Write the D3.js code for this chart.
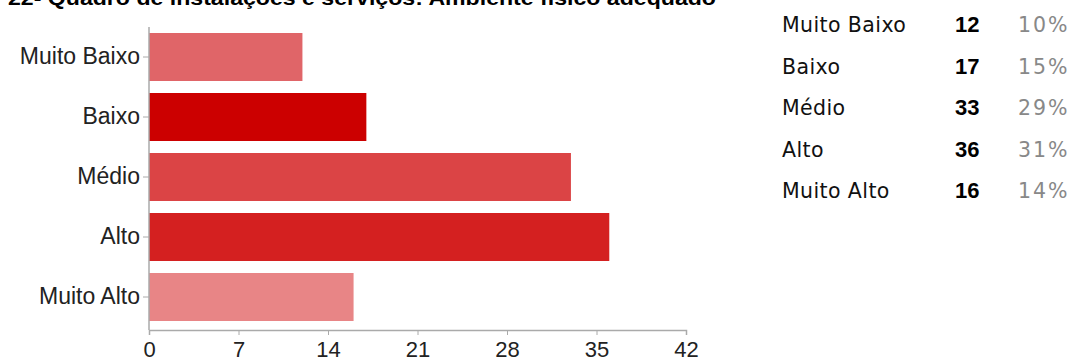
<!DOCTYPE html>
<html><head><meta charset="utf-8">
<script src="https://cdn.jsdelivr.net/npm/d3@7"></script>
<style>
body{margin:0;background:#fff;}
svg{display:block;}
</style></head>
<body>
<script>
const title = "22- Quadro de instalações e serviços: Ambiente físico adequado";
const categories = ["Muito Baixo","Baixo","Médio","Alto","Muito Alto"];
const counts = [12,17,33,36,16];
const percents = ["10%","15%","29%","31%","14%"];
const xTicks = [0,7,14,21,28,35,42];
const colors = ["#e06568","#cc0000","#db4445","#d42020","#e88586"];

const W=1075,H=362;
const svg=d3.select("body").append("svg").attr("width",W).attr("height",H);

const x=d3.scaleLinear().domain([0,42]).range([149,686]);
const y=d3.scaleBand().domain(categories).range([27,327]).paddingInner(0.2).paddingOuter(0.1);

// title (partially cut off at the top, as in the reference)
svg.append("text").attr("x",8).attr("y",4.5)
  .attr("font-family","Liberation Sans, Arial, sans-serif").attr("font-weight","bold")
  .attr("font-size",21).attr("textLength",708).attr("lengthAdjust","spacingAndGlyphs")
  .attr("fill","#000").text(title);

// bars
svg.append("g").selectAll("rect").data(categories).join("rect")
  .attr("x",x(0)).attr("y",d=>y(d))
  .attr("width",(d,i)=>x(counts[i])-x(0)).attr("height",y.bandwidth())
  .attr("fill",(d,i)=>colors[i]);

// y axis
const yAxis=svg.append("g").attr("transform",`translate(${x(0)},0)`)
  .call(d3.axisLeft(y).tickSize(6).tickPadding(3));
yAxis.select(".domain").remove();
yAxis.selectAll(".tick line").attr("stroke","#aaa");
yAxis.selectAll("text").attr("font-family","Liberation Sans, Arial, sans-serif").attr("font-size",23).attr("fill","#222");
svg.append("line").attr("x1",x(0)).attr("x2",x(0)).attr("y1",27).attr("y2",330).attr("stroke","#aaa").attr("stroke-width",1.5);

// x axis
const xAxis=svg.append("g").attr("transform","translate(0,330)")
  .call(d3.axisBottom(x).tickValues(xTicks).tickSize(5).tickPadding(6));
xAxis.select(".domain").attr("stroke","#aaa").attr("stroke-width",1.5);
xAxis.selectAll(".tick line").attr("stroke","#aaa");
xAxis.selectAll("text").attr("font-family","Liberation Sans, Arial, sans-serif").attr("font-size",22).attr("fill","#222");

// legend table
const lg=svg.append("g");
categories.forEach((c,i)=>{
  const by=32+i*41.6;
  lg.append("text").attr("x",782).attr("y",by).attr("font-family","DejaVu Sans, sans-serif").attr("font-size",20.5).attr("letter-spacing",0.4).attr("fill","#111").text(c);
  lg.append("text").attr("x",955).attr("y",by).attr("font-family","Liberation Sans, Arial, sans-serif").attr("font-weight","bold").attr("font-size",22).attr("fill","#000").text(counts[i]);
  lg.append("text").attr("x",1018).attr("y",by).attr("font-family","DejaVu Sans, sans-serif").attr("font-size",20.5).attr("letter-spacing",2).attr("fill","#888").text(percents[i]);
});
</script>
</body></html>
